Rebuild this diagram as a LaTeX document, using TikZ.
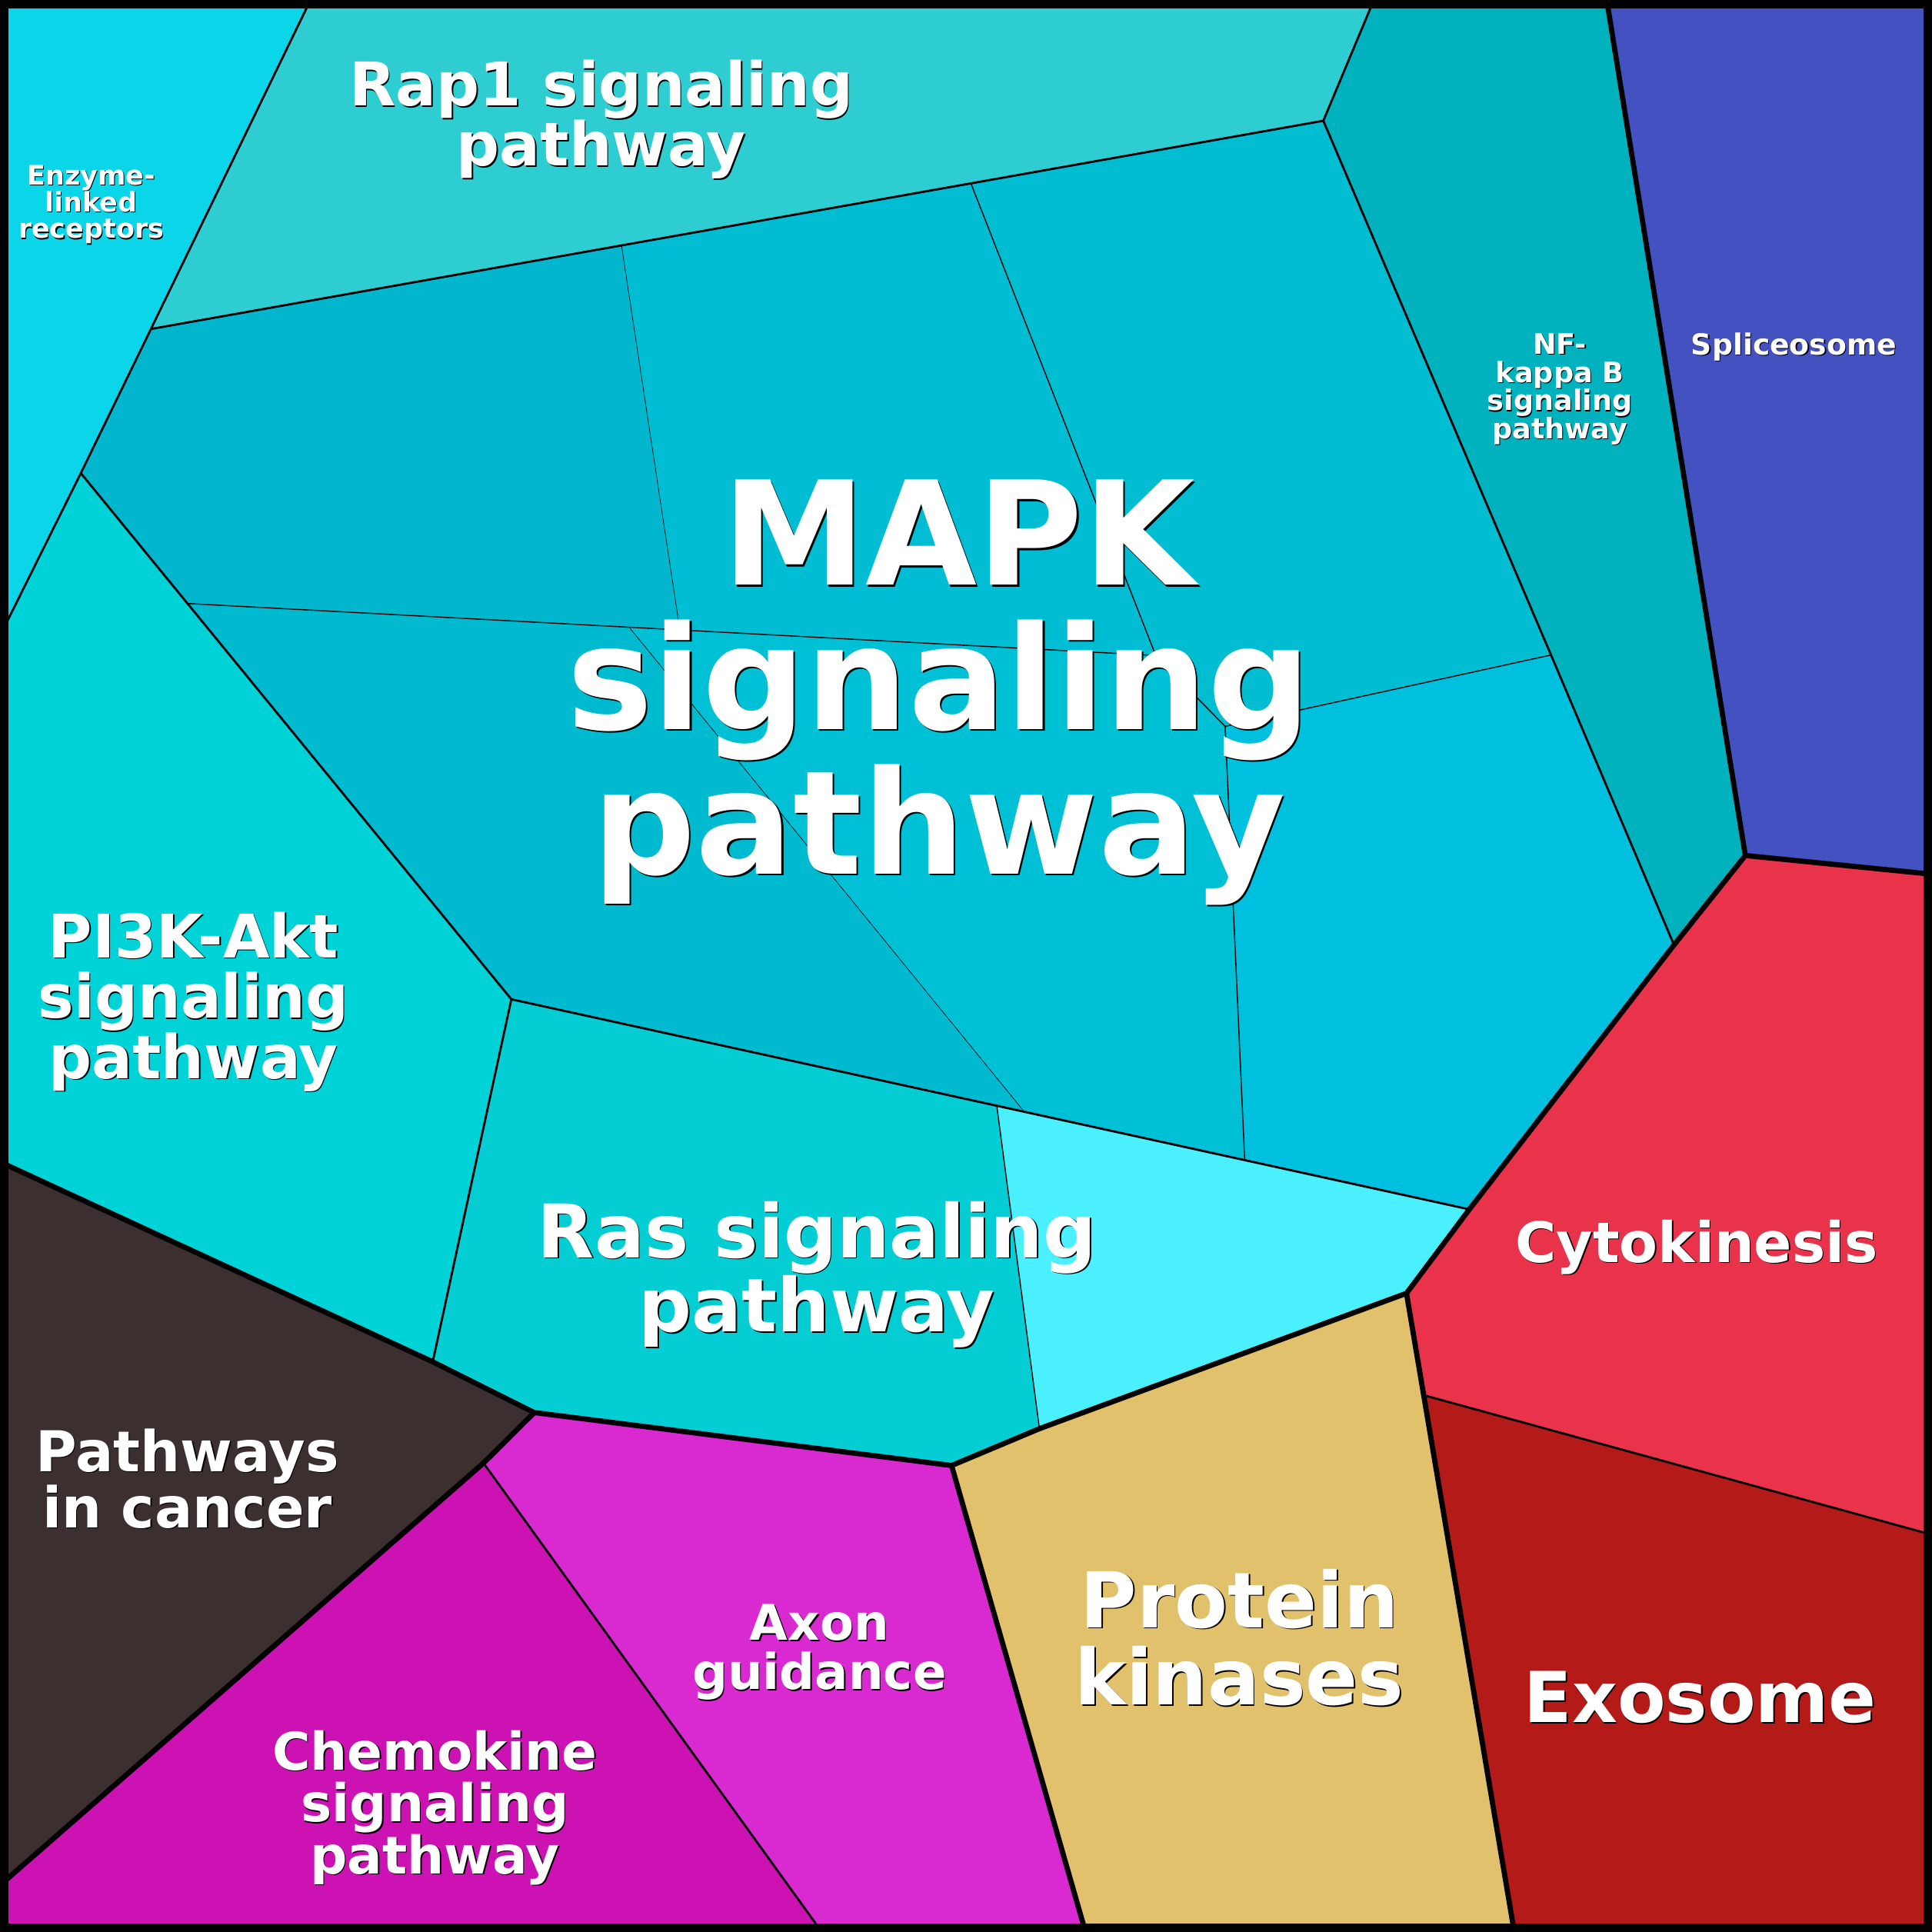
\documentclass[tikz,border=0pt]{standalone}
\usepackage{fontspec}
\setmainfont{DejaVu Sans}
\definecolor{enz}{HTML}{0BD5E8}
\definecolor{rap}{HTML}{2DCDD2}
\definecolor{nfk}{HTML}{00B2BE}
\definecolor{spl}{HTML}{4351C1}
\definecolor{mA}{HTML}{02B7CD}
\definecolor{mB}{HTML}{00BDD4}
\definecolor{mC}{HTML}{00BDD2}
\definecolor{mD}{HTML}{00C0DF}
\definecolor{mE}{HTML}{00C0D6}
\definecolor{mF}{HTML}{00BACF}
\definecolor{pik}{HTML}{00D3D8}
\definecolor{ras}{HTML}{04CED4}
\definecolor{lcy}{HTML}{4BF0FF}
\definecolor{can}{HTML}{3C2F2F}
\definecolor{che}{HTML}{CC12B2}
\definecolor{axo}{HTML}{D929D0}
\definecolor{pka}{HTML}{E2C16C}
\definecolor{cyt}{HTML}{E8334A}
\definecolor{exo}{HTML}{B41A17}
\tikzset{
  lone/.style={line width=1.2pt},
  ltwo/.style={line width=0.5pt},
  lthree/.style={line width=0.25pt},
  lfour/.style={line width=0.12pt},
  lab/.style={text=white, align=center, inner sep=0pt, font=\bfseries},
}

\begin{document}
\begin{tikzpicture}[x=0.01cm, y=-0.01cm, line join=miter]

  \newcommand\lbl[5]{% name, pos, size, shadow, text
    \node[lab, text=black, font=\bfseries\fontsize{#3}{#3}\selectfont, shift={(#4,#4)}] (#1s) at (#2) {#5};
    \node[lab, font=\bfseries\fontsize{#3}{#3}\selectfont] (#1) at (#2) {#5};}

  \useasboundingbox (0,0) rectangle (1568,1568);

  %% frame points
  \coordinate (tl) at (0,0);      \coordinate (tr) at (1568,0);
  \coordinate (br) at (1568,1568); \coordinate (bl) at (0,1568);
  \coordinate (t1) at (252,0);    \coordinate (t2) at (1115,0);   \coordinate (t3) at (1304,0);
  \coordinate (l1) at (0,516);    \coordinate (l2) at (0,943);    \coordinate (l3) at (0,1530);
  \coordinate (r1) at (1568,709.5); \coordinate (r2) at (1568,1245.6);
  \coordinate (b1) at (667,1568); \coordinate (b2) at (881,1568); \coordinate (b3) at (1229,1568);

  %% inner points
  \coordinate (a) at (122.5,267);  \coordinate (b) at (65.6,384);
  \coordinate (c) at (504.5,199.5); \coordinate (d) at (788,148.8);
  \coordinate (e) at (1074,98);    \coordinate (f) at (1258.8,531.6);
  \coordinate (g) at (1358.6,766.9); \coordinate (h) at (1416.5,694.3);
  \coordinate (i) at (1192.5,981.5); \coordinate (j) at (1141.5,1049.6);
  \coordinate (k) at (1155.5,1132.3); \coordinate (m) at (843.6,1159.5);
  \coordinate (n) at (772.3,1189.4); \coordinate (o) at (433.6,1146.4);
  \coordinate (p) at (392.4,1187.4); \coordinate (q) at (351.2,1105.2);
  \coordinate (s) at (415,811);    \coordinate (u) at (152.3,489.8);
  \coordinate (v) at (551.8,511.2); \coordinate (w) at (510.6,509);
  \coordinate (x1) at (938,532);   \coordinate (J) at (994.3,589.5);
  \coordinate (z) at (1010.2,941.5); \coordinate (ff) at (831.3,902.3);
  \coordinate (rr) at (809,897.4);

  %% cells
  \fill[enz] (tl) -- (t1) -- (a) -- (b) -- (l1) -- cycle;
  \fill[rap] (t1) -- (t2) -- (e) -- (d) -- (c) -- (a) -- cycle;
  \fill[nfk] (t2) -- (t3) -- (h) -- (g) -- (f) -- (e) -- cycle;
  \fill[spl] (t3) -- (tr) -- (r1) -- (h) -- cycle;
  \fill[mA] (a) -- (c) -- (v) -- (u) -- (b) -- cycle;
  \fill[mB] (c) -- (d) -- (x1) -- (v) -- cycle;
  \fill[mC] (d) -- (e) -- (f) -- (J) -- (x1) -- cycle;
  \fill[mD] (f) -- (g) -- (i) -- (z) -- (J) -- cycle;
  \fill[mE] (w) -- (x1) -- (J) -- (z) -- (ff) -- cycle;
  \fill[mF] (u) -- (w) -- (ff) -- (s) -- cycle;
  \fill[pik] (l1) -- (b) -- (u) -- (s) -- (q) -- (l2) -- cycle;
  \fill[ras] (s) -- (rr) -- (m) -- (n) -- (o) -- (q) -- cycle;
  \fill[lcy] (rr) -- (i) -- (j) -- (m) -- cycle;
  \fill[can] (l2) -- (q) -- (o) -- (p) -- (l3) -- cycle;
  \fill[che] (l3) -- (p) -- (b1) -- (bl) -- cycle;
  \fill[axo] (o) -- (n) -- (b2) -- (b1) -- (p) -- cycle;
  \fill[pka] (n) -- (m) -- (j) -- (b3) -- (b2) -- cycle;
  \fill[cyt] (h) -- (r1) -- (r2) -- (k) -- (j) -- (i) -- (g) -- cycle;
  \fill[exo] (k) -- (r2) -- (br) -- (b3) -- cycle;

  %% borders
  \draw[lfour] (c) -- (v);  %% A|B
  \draw[lfour] (w) -- (ff); %% E|F
  \draw[lthree] (u) -- (x1) -- (J) -- (z);
  \draw[lthree] (d) -- (x1);
  \draw[lthree] (f) -- (J);
  \draw[lthree] (rr) -- (m);
  \draw[ltwo] (t1) -- (a) -- (b) -- (l1);
  \draw[ltwo] (a) -- (e) -- (t2);
  \draw[ltwo] (e) -- (f) -- (g);
  \draw[ltwo] (b) -- (s) -- (q);
  \draw[ltwo] (s) -- (i);
  \draw[ltwo] (p) -- (b1);
  \draw[ltwo] (k) -- (r2);
  \draw[lone] (t3) -- (h) -- (r1);
  \draw[lone] (h) -- (g) -- (i) -- (j) -- (m) -- (n) -- (o) -- (q) -- (l2);
  \draw[lone] (j) -- (b3);
  \draw[lone] (n) -- (b2);
  \draw[lone] (o) -- (p) -- (l3);
  \draw[line width=4pt] (tl) rectangle (br);

  %% labels
  \lbl{enzl}{74,166}{6.2}{0.7}{Enzyme-\\linked\\receptors}
  \lbl{rapl}{488,97}{13.9}{0.9}{Rap1 signaling\\pathway}
  \lbl{nfkl}{1266,316}{6.5}{0.7}{NF-\\kappa B\\signaling\\pathway}
  \lbl{spll}{1456,281.5}{6.7}{0.7}{Spliceosome}
  \lbl{mapk}{762,562}{33.3}{1.4}{\hspace*{0.32cm}MAPK\\signaling\\pathway}
  \lbl{pikl}{157,813}{13.9}{0.9}{PI3K-Akt\\signaling\\pathway}
  \lbl{rasl}{663,1034.5}{17.1}{1}{Ras signaling\\pathway}
  \lbl{canl}{152,1200}{13}{0.9}{Pathways\\in cancer}
  \lbl{chel}{353,1467}{12}{0.9}{Chemokine\\signaling\\pathway}
  \lbl{axol}{665,1341}{11.4}{0.9}{Axon\\guidance}
  \lbl{pkal}{1006,1329}{17.8}{1}{Protein\\kinases}
  \lbl{cytl}{1377,1012}{12.9}{0.9}{Cytokinesis}
  \lbl{exol}{1380,1377.5}{16.2}{1}{Exosome}
\end{tikzpicture}
\end{document}
